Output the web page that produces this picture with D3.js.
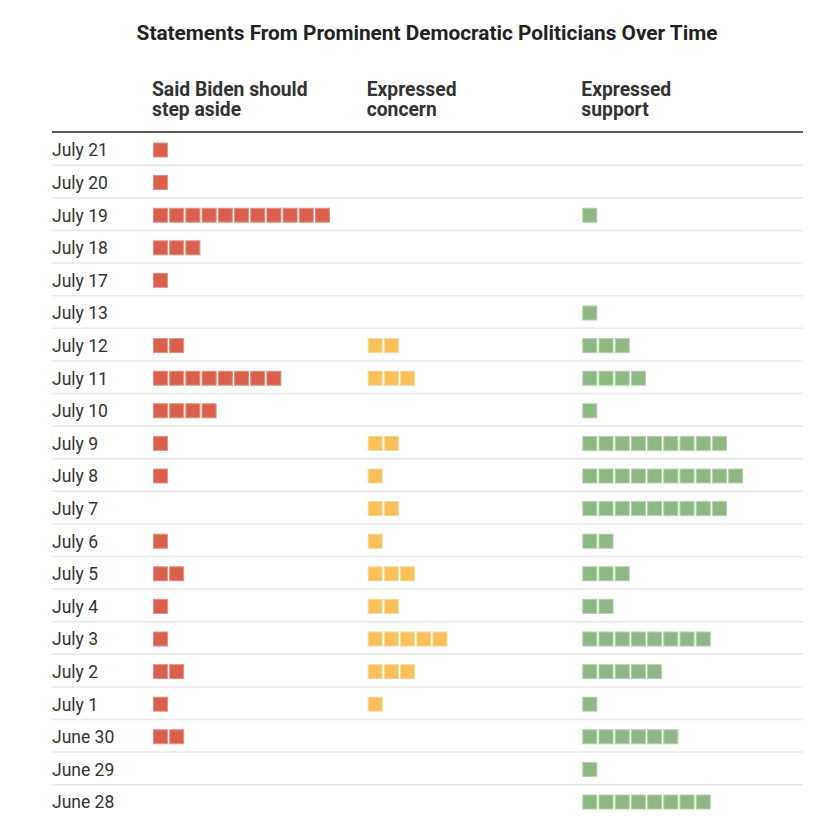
<!DOCTYPE html>
<html><head><meta charset="utf-8">
<script src="https://cdn.jsdelivr.net/npm/d3@7"></script>
<style>
body{margin:0;background:#fff;}
svg{display:block;}
</style></head>
<body>
<svg id="chart" width="822" height="829"></svg>
<script>
const title = "Statements From Prominent Democratic Politicians Over Time";
const dates = ["July 21","July 20","July 19","July 18","July 17","July 13","July 12","July 11","July 10","July 9","July 8","July 7","July 6","July 5","July 4","July 3","July 2","July 1","June 30","June 29","June 28"];
const categories = ["step","concern","support"];
const categoryLabels = [["Said Biden should","step aside"],["Expressed","concern"],["Expressed","support"]];
const stepAside = [1,1,11,3,1,0,2,8,4,1,1,0,1,2,1,1,2,1,2,0,0];
const concern   = [0,0,0,0,0,0,2,3,0,2,1,2,1,3,2,5,3,1,0,0,0];
const support   = [0,0,1,0,0,1,3,4,1,9,10,9,2,3,2,8,5,1,6,1,8];
const colors = ["#d9604c","#f7c05a","#8db883"];
const strokes = ["#e6907f","#fad89a","#b3d1ab"];

const series = [stepAside, concern, support];
const svg = d3.select("#chart");
const font = "Roboto, 'Liberation Sans', sans-serif";

const y = d3.scaleBand().domain(dates).range([133.7, 818.3]);
const xCol = d3.scaleBand().domain(categories).range([153, 797]);
const xSq = d3.scaleLinear().domain([0, 1]).range([0, 16.2]);
const sq = 15;

svg.append("text")
  .attr("x", 427).attr("y", 40)
  .attr("text-anchor", "middle")
  .attr("font-family", font).attr("font-weight", 700)
  .attr("font-size", 20.8).attr("fill", "#222")
  .text(title);

categories.forEach((c, ci) => {
  const t = svg.append("text")
    .attr("x", xCol(c) - 1).attr("y", 96)
    .attr("font-family", font).attr("font-weight", 700)
    .attr("font-size", 19.3).attr("fill", "#333");
  categoryLabels[ci].forEach((line, li) => {
    t.append("tspan").attr("x", xCol(c) - 1).attr("dy", li === 0 ? 0 : 20).text(line);
  });
});

svg.append("line")
  .attr("x1", 52).attr("x2", 803).attr("y1", 132).attr("y2", 132)
  .attr("stroke", "#222").attr("stroke-width", 1.5);

// row separators
svg.selectAll("line.sep").data(dates.slice(0, -1)).join("line")
  .attr("class", "sep")
  .attr("x1", 52).attr("x2", 803)
  .attr("y1", d => y(d) + y.bandwidth() - 1)
  .attr("y2", d => y(d) + y.bandwidth() - 1)
  .attr("stroke", "#e8e8e8").attr("stroke-width", 1.5);

// date labels
svg.selectAll("text.date").data(dates).join("text")
  .attr("class", "date")
  .attr("x", 52)
  .attr("y", d => y(d) + y.bandwidth() / 2)
  .attr("dy", "0.36em")
  .attr("font-family", font).attr("font-size", 17.5).attr("fill", "#333")
  .text(d => d);

// squares
categories.forEach((c, ci) => {
  const cells = [];
  dates.forEach((d, di) => {
    for (let k = 0; k < series[ci][di]; k++) cells.push({d, k});
  });
  svg.append("g").selectAll("rect").data(cells).join("rect")
    .attr("x", p => xCol(c) + xSq(p.k) + 0.5)
    .attr("y", p => y(p.d) + y.bandwidth() / 2 - sq / 2 + 0.5)
    .attr("width", sq - 1).attr("height", sq - 1)
    .attr("fill", colors[ci])
    .attr("stroke", strokes[ci]).attr("stroke-width", 1);
});
</script>
</body></html>
